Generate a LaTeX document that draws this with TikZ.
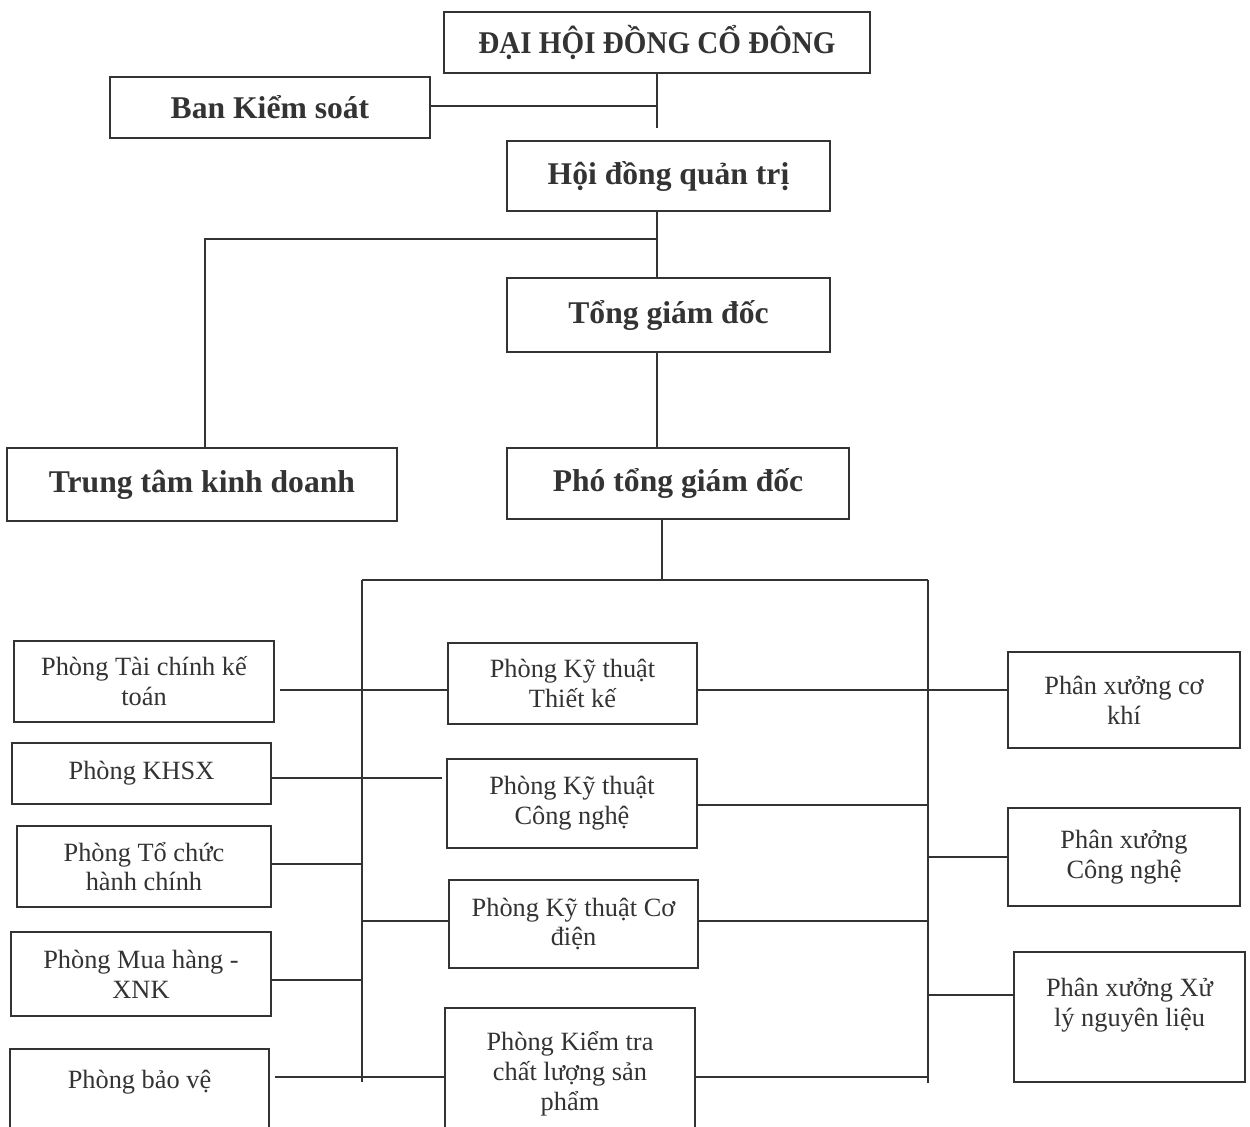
\documentclass[tikz,border=0pt]{standalone}
\usepackage{fontspec}
\setmainfont{Liberation Serif}
\usetikzlibrary{positioning}

\begin{document}
\begin{tikzpicture}[
  x=0.02cm, y=-0.02cm,
  color=black!80,
  % Upper management box
  head/.style={rectangle, draw, line width=0.9pt, inner sep=0pt,
               align=center, font=\fontsize{18}{22}\selectfont\bfseries},
  % Department / workshop box
  dept/.style={rectangle, draw, line width=0.9pt, inner sep=0pt,
               align=center, font=\fontsize{15}{17}\selectfont},
  link/.style={line width=0.9pt}
]
\useasboundingbox (0,0) rectangle (1250,1126);
\clip (0,0) rectangle (1250,1126);

% ── Management spine ───────────────────────────────────────────────────
\node[head, minimum width=8.52cm, minimum height=1.22cm] (dhdcd) at (657,42.5)
  {\scalebox{0.92}[1]{ĐẠI HỘI ĐỒNG CỔ ĐÔNG}};
\node[head, minimum width=6.4cm,  minimum height=1.22cm] (bks)   at (270,107.5) {Ban Kiểm soát};
\node[head, minimum width=6.46cm, minimum height=1.4cm]  (hdqt)  at (668.5,176) {Hội đồng quản trị};
\node[head, minimum width=6.46cm, minimum height=1.48cm] (tgd)   at (668.5,315) {Tổng giám đốc};
\node[head, minimum width=7.8cm,  minimum height=1.46cm] (ttkd)  at (202,484.5) {Trung tâm kinh doanh};
\node[head, minimum width=6.84cm, minimum height=1.42cm] (ptgd)  at (678,483.5) {Phó tổng giám đốc};

\coordinate (j1)   at (657,128);
\coordinate (hub1) at (657,239);
\coordinate (bus)  at (662,580);

\draw[link] (dhdcd.south) -- (j1);
\draw[link] (bks.east |- 0,106) -- (j1 |- 0,106);   % control board joins spine
\draw[link] (hdqt.south -| hub1) -- (tgd.north -| hub1);
\draw[link] (hub1) -| ([xshift=0.06cm]ttkd.north);
\draw[link] (tgd.south -| hub1) -- (ptgd.north -| hub1);
\draw[link] (ptgd.south -| bus) -- (bus);

% ── Bus lines ──────────────────────────────────────────────────────────
\coordinate (lb)  at (362,580);
\coordinate (rb)  at (928,580);
\coordinate (lbe) at (362,1082);
\coordinate (rbe) at (928,1083);

\draw[link] (lb) -- (rb);
\draw[link] (lb) -- (lbe);
\draw[link] (rb) -- (rbe);

% ── Left column ────────────────────────────────────────────────────────
\node[dept, minimum width=5.2cm,  minimum height=1.62cm] (ptckt) at (144,681.5) {Phòng Tài chính kế\\toán};
\node[dept, minimum width=5.18cm, minimum height=1.22cm] (pkhsx) at (141.5,773.5) {Phòng KHSX};
\node[dept, minimum width=5.08cm, minimum height=1.62cm] (ptchc) at (144,866.5) {Phòng Tổ chức\\hành chính};
\node[dept, minimum width=5.2cm,  minimum height=1.68cm] (pmh)   at (141,974) {Phòng Mua hàng -\\XNK};
\node[dept, minimum width=5.18cm, minimum height=1.82cm] (pbv)   at (139.5,1094.5) {Phòng bảo vệ\\\mbox{}};

% ── Middle column ──────────────────────────────────────────────────────
\node[dept, minimum width=4.98cm, minimum height=1.62cm] (pktk)  at (572.5,683.5) {Phòng Kỹ thuật\\Thiết kế};
\node[dept, minimum width=5.0cm,  minimum height=1.78cm] (pktcn) at (572,803.5) {Phòng Kỹ thuật\\Công nghệ};
\node[dept, minimum width=4.98cm, minimum height=1.76cm] (pktcd) at (573.5,924) {Phòng Kỹ thuật Cơ\\điện};
\node[dept, minimum width=5.0cm,  minimum height=2.64cm] (pktcl) at (570,1074) {Phòng Kiểm tra\\chất lượng sản\\phẩm};

% ── Right column ───────────────────────────────────────────────────────
\node[dept, minimum width=4.64cm, minimum height=1.92cm] (pxck) at (1124,700) {Phân xưởng cơ\\khí};
\node[dept, minimum width=4.64cm, minimum height=1.96cm] (pxcn) at (1124,857) {Phân xưởng\\Công nghệ};
\node[dept, minimum width=4.62cm, minimum height=2.6cm]  (pxxl) at (1129.5,1017) {Phân xưởng Xử\\lý nguyên liệu\\\mbox{}};

% ── Row connectors ─────────────────────────────────────────────────────
\coordinate (r1) at (0,690);
\coordinate (r2) at (0,778);
\coordinate (r3) at (0,805);
\coordinate (r4) at (0,864);
\coordinate (r5) at (0,857);
\coordinate (r6) at (0,921);
\coordinate (r7) at (0,980);
\coordinate (r8) at (0,995);
\coordinate (r9) at (0,1077);
\coordinate (kend) at (442,778);

\draw[link, shorten <=1mm] (ptckt.east |- r1) -- (pktk.west |- r1);
\draw[link] (pktk.east |- r1) -- (pxck.west |- r1);
\draw[link] (pkhsx.east |- r2) -- (kend);
\draw[link] (pktcn.east |- r3) -- (rb |- r3);
\draw[link] (ptchc.east |- r4) -- (lb |- r4);
\draw[link] (rb |- r5) -- (pxcn.west |- r5);
\draw[link] (lb |- r6) -- (pktcd.west |- r6);
\draw[link] (pktcd.east |- r6) -- (rb |- r6);
\draw[link] (pmh.east |- r7) -- (lb |- r7);
\draw[link] (rb |- r8) -- (pxxl.west |- r8);
\draw[link, shorten <=1mm] (pbv.east |- r9) -- (pktcl.west |- r9);
\draw[link] (pktcl.east |- r9) -- (rb |- r9);

\end{tikzpicture}
\end{document}
